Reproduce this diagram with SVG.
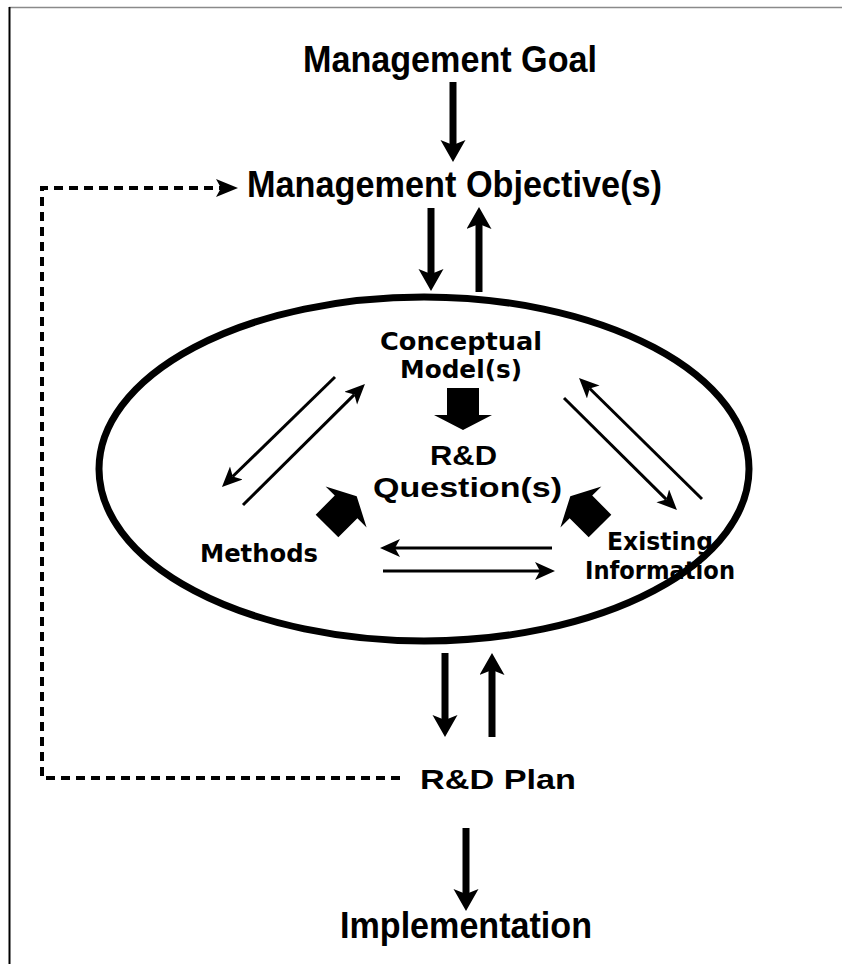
<svg xmlns="http://www.w3.org/2000/svg" width="842" height="964" viewBox="0 0 842 964">
<style>
.main{font-family:"Liberation Sans",Arial,sans-serif;font-weight:bold;font-size:37px;fill:#000}
.inner{font-family:"DejaVu Sans","Liberation Sans",sans-serif;font-weight:bold;font-size:25px;fill:#000}
.rd{font-family:"Liberation Sans",Arial,sans-serif;font-weight:bold;font-size:28px;fill:#000}
.thick{stroke:#000;stroke-width:7;fill:none}
.thin{stroke:#000;stroke-width:3;fill:none}
.dash{stroke:#000;stroke-width:4;fill:none;stroke-dasharray:9 6}
</style>
<defs>
<marker id="hBig" markerUnits="userSpaceOnUse" markerWidth="24" markerHeight="26" refX="5" refY="12.5" orient="auto"><path d="M0,0 L22,12.5 L0,25 L5,12.5 Z" fill="#000"/></marker>
<marker id="hThin" markerUnits="userSpaceOnUse" markerWidth="22" markerHeight="20" refX="5" refY="9" orient="auto"><path d="M0,0 L20,9 L0,18 L5,9 Z" fill="#000"/></marker>
<marker id="hDash" markerUnits="userSpaceOnUse" markerWidth="24" markerHeight="20" refX="5" refY="9" orient="auto"><path d="M0,0 L22,9 L0,18 L5,9 Z" fill="#000"/></marker>
<path id="blk" d="M-16,0 L16,0 L16,-27 L29,-27 L0,-42 L-29,-27 L-16,-27 Z" fill="#000"/>
</defs>
<rect width="842" height="964" fill="#fff"/>
<g id="frame">
<line x1="9" y1="7.5" x2="842" y2="7.5" stroke="#8a8a8a" stroke-width="1.5"/>
<line x1="9.5" y1="7" x2="9.5" y2="964" stroke="#000" stroke-width="2"/>
</g>
<g id="rd-box">
<ellipse cx="424" cy="469" rx="325" ry="172" fill="none" stroke="#000" stroke-width="7"/>
</g>
<g id="connectors">
<line class="thick" x1="453" y1="82" x2="453" y2="145" marker-end="url(#hBig)"/>
<line class="thick" x1="431" y1="208" x2="431" y2="274" marker-end="url(#hBig)"/>
<line class="thick" x1="479" y1="292" x2="479" y2="224" marker-end="url(#hBig)"/>
<line class="thick" x1="445" y1="653" x2="445" y2="720" marker-end="url(#hBig)"/>
<line class="thick" x1="492" y1="737" x2="492" y2="670" marker-end="url(#hBig)"/>
<line class="thick" x1="466" y1="828" x2="466" y2="894" marker-end="url(#hBig)"/>
<path class="dash" d="M400,778 H42 V188 H221" marker-end="url(#hDash)"/>
<line class="thin" x1="335" y1="377" x2="232.7" y2="476.5" marker-end="url(#hThin)"/>
<line class="thin" x1="243" y1="505" x2="354.3" y2="394.6" marker-end="url(#hThin)"/>
<line class="thin" x1="702" y1="499" x2="589.7" y2="388.5" marker-end="url(#hThin)"/>
<line class="thin" x1="564" y1="398" x2="666.3" y2="499.4" marker-end="url(#hThin)"/>
<line class="thin" x1="552" y1="548" x2="395" y2="548" marker-end="url(#hThin)"/>
<line class="thin" x1="383" y1="571" x2="540" y2="571" marker-end="url(#hThin)"/>
<use href="#blk" transform="translate(463,388) rotate(180)"/>
<use href="#blk" transform="translate(327,526) rotate(45)"/>
<use href="#blk" transform="translate(600,526) rotate(-45)"/>
</g>
<g id="management-goal"><text class="main" x="303" y="72" textLength="294" lengthAdjust="spacingAndGlyphs">Management Goal</text></g>
<g id="management-objectives"><text class="main" x="247" y="197" textLength="415" lengthAdjust="spacingAndGlyphs">Management Objective(s)</text></g>
<g id="conceptual-models">
<text class="inner"><tspan x="380" y="350" textLength="162" lengthAdjust="spacingAndGlyphs">Conceptual</tspan><tspan x="400" y="378" textLength="122" lengthAdjust="spacingAndGlyphs">Model(s)</tspan></text>
</g>
<g id="rd-questions">
<text class="rd"><tspan x="430" y="465" textLength="67" lengthAdjust="spacingAndGlyphs">R&amp;D</tspan><tspan x="373" y="497" textLength="189" lengthAdjust="spacingAndGlyphs">Question(s)</tspan></text>
</g>
<g id="methods"><text class="inner" x="200" y="562" textLength="118" lengthAdjust="spacingAndGlyphs">Methods</text></g>
<g id="existing-information">
<text class="inner"><tspan x="607" y="550" textLength="106" lengthAdjust="spacingAndGlyphs">Existing</tspan><tspan x="585" y="579" textLength="150" lengthAdjust="spacingAndGlyphs">Information</tspan></text>
</g>
<g id="rd-plan"><text class="rd" x="420" y="789" font-size="33" textLength="156" lengthAdjust="spacingAndGlyphs">R&amp;D Plan</text></g>
<g id="implementation"><text class="main" x="340" y="938" textLength="252" lengthAdjust="spacingAndGlyphs">Implementation</text></g>
</svg>
